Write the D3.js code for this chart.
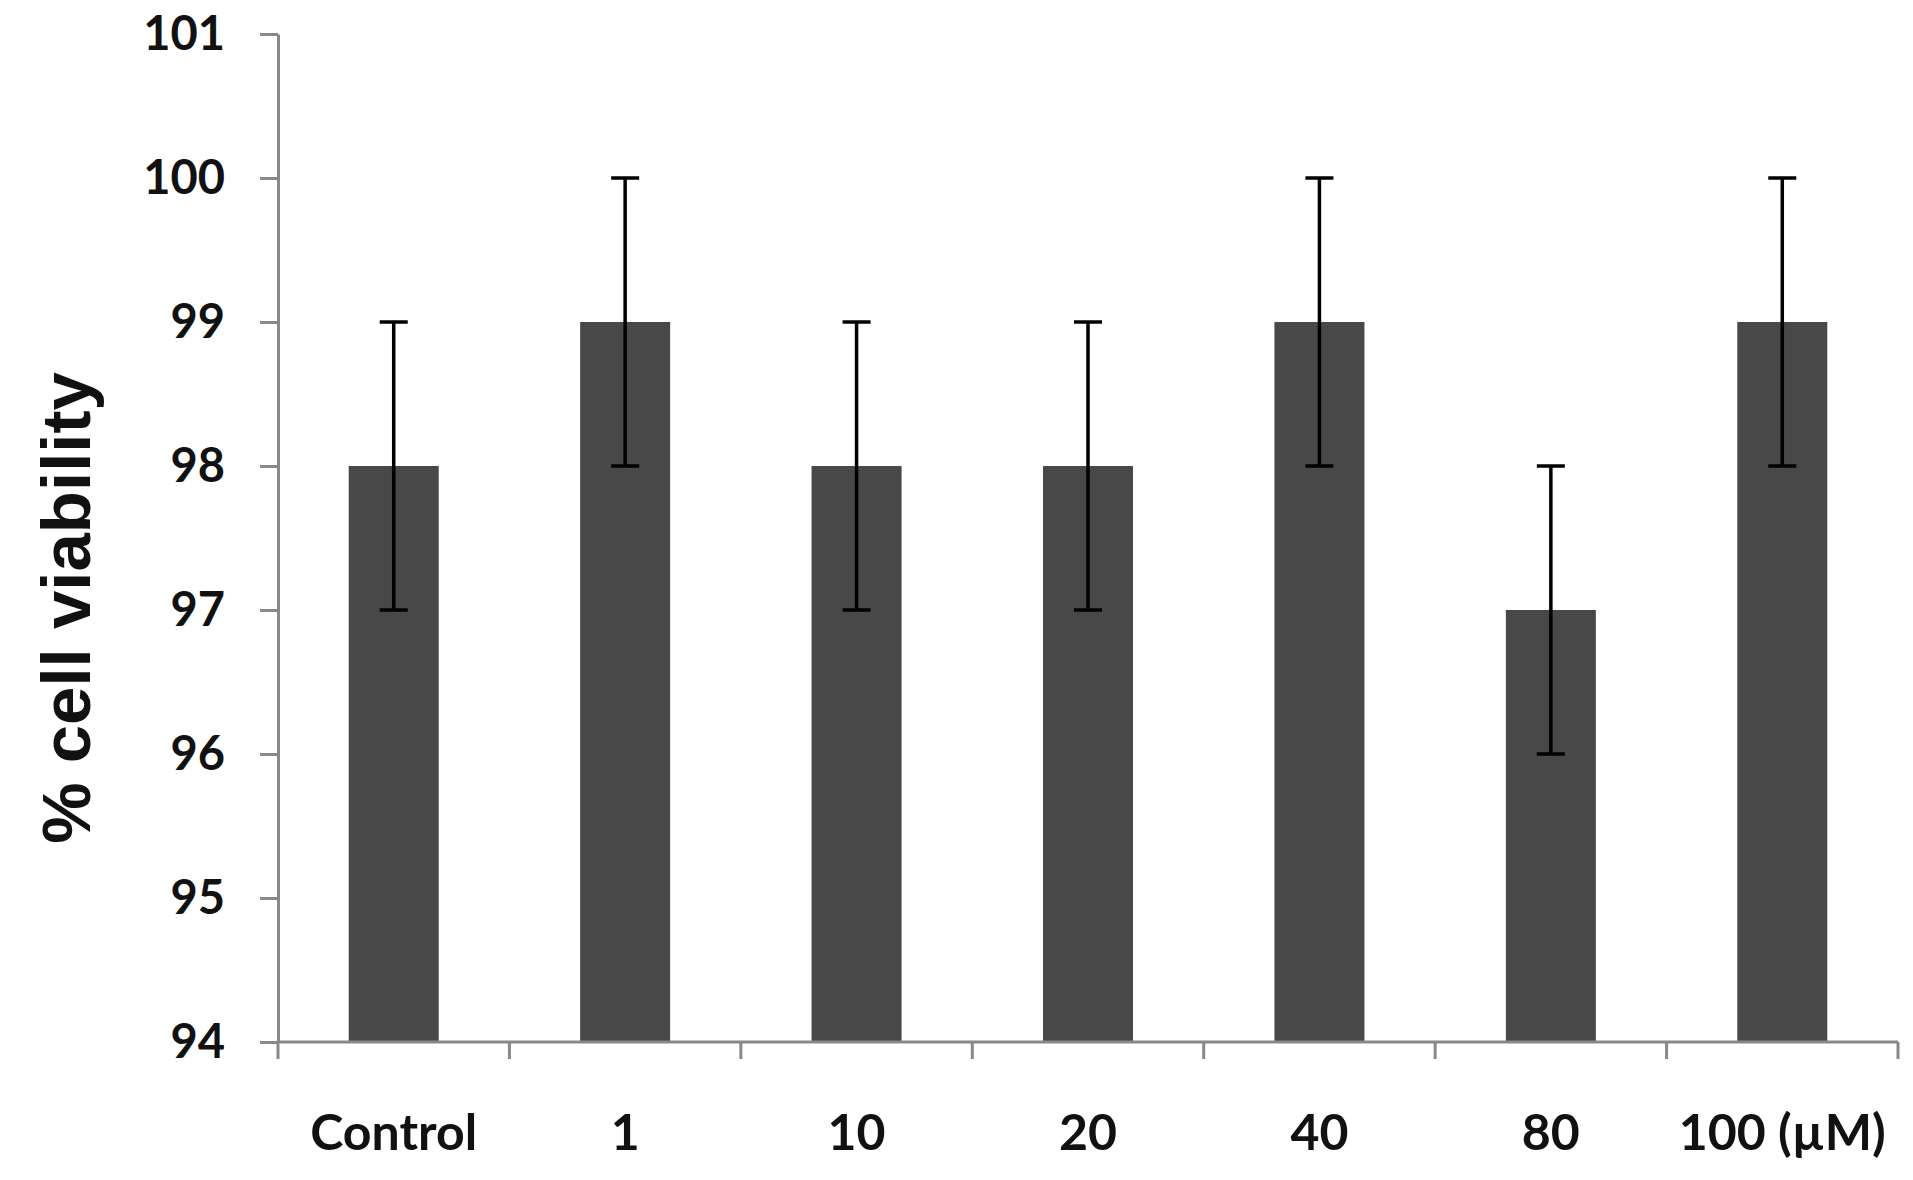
<!DOCTYPE html>
<meta charset="utf-8">
<style>
body {
  margin: 0;
  padding: 0;
  background: #fff;
}
svg text {
  fill: #111;
}
.tick text {
  font-family: Lato, "Open Sans", sans-serif;
  font-weight: bold;
}
.ytitle {
  font-family: "Liberation Sans", Arial, sans-serif;
  font-weight: bold;
  font-size: 69px;
}
</style>
<body>
<div id="chart"></div>
<script src="https://d3js.org/d3.v7.min.js"></script>
<script>

var categories = ['Control', '1', '10', '20', '40', '80', '100 (\u00b5M)'];
var viability = [98, 99, 98, 98, 99, 97, 99];
var errLow = [97, 98, 97, 97, 98, 96, 98];
var errHigh = [99, 100, 99, 99, 100, 98, 100];
var yTicks = [94, 95, 96, 97, 98, 99, 100, 101];

var width = 1913, height = 1180;
var plotLeft = 278, plotRight = 1898, plotTop = 34, plotBottom = 1042;
var axisColor = '#888';

var svg = d3.select('#chart').append('svg')
  .attr('width', width)
  .attr('height', height);

var x = d3.scaleBand()
  .domain(categories)
  .range([plotLeft, plotRight])
  .padding(0);

var y = d3.scaleLinear()
  .domain([94, 101])
  .range([plotBottom, plotTop]);

var barWidth = 90;

// bars
svg.append('g')
  .selectAll('rect')
  .data(viability)
  .enter().append('rect')
    .attr('x', function (d, i) { return x(categories[i]) + x.bandwidth() / 2 - barWidth / 2; })
    .attr('y', function (d) { return y(d); })
    .attr('width', barWidth)
    .attr('height', function (d) { return y(94) - y(d); })
    .attr('fill', '#484848');

// y axis
var yAxis = svg.append('g')
  .attr('transform', 'translate(' + plotLeft + ',0)')
  .call(d3.axisLeft(y).tickValues(yTicks).tickSize(18).tickSizeOuter(0).tickPadding(35).tickFormat(d3.format('d')));
yAxis.select('.domain').attr('stroke', axisColor).attr('stroke-width', 3);
yAxis.selectAll('.tick line').attr('stroke', axisColor).attr('stroke-width', 3);
yAxis.selectAll('.tick text').attr('font-size', 47).attr('fill', '#111');

// x axis: labels centered, ticks on band boundaries
var xAxis = svg.append('g')
  .attr('transform', 'translate(0,' + plotBottom + ')')
  .call(d3.axisBottom(x).tickSize(0).tickPadding(72));
xAxis.select('.domain').remove();
xAxis.selectAll('.tick text').attr('font-size', 50).attr('fill', '#111');

var bounds = categories.map(function (c) { return x(c); }).concat([plotRight]);
var xg = svg.append('g').attr('stroke', axisColor).attr('stroke-width', 3);
xg.append('line')
  .attr('x1', plotLeft).attr('x2', plotRight)
  .attr('y1', plotBottom).attr('y2', plotBottom);
xg.selectAll('.xt')
  .data(bounds)
  .enter().append('line')
    .attr('class', 'xt')
    .attr('x1', function (d) { return d; })
    .attr('x2', function (d) { return d; })
    .attr('y1', plotBottom)
    .attr('y2', plotBottom + 17);

// error bars
var capW = 28;
var eg = svg.append('g').attr('stroke', '#000').attr('stroke-width', 3.5);
categories.forEach(function (c, i) {
  var cx = x(c) + x.bandwidth() / 2;
  eg.append('line')
    .attr('x1', cx).attr('x2', cx)
    .attr('y1', y(errLow[i])).attr('y2', y(errHigh[i]));
  [errLow[i], errHigh[i]].forEach(function (v) {
    eg.append('line')
      .attr('x1', cx - capW / 2).attr('x2', cx + capW / 2)
      .attr('y1', y(v)).attr('y2', y(v));
  });
});

// y title
svg.append('text')
  .attr('class', 'ytitle')
  .attr('transform', 'translate(90,' + 608 + ') rotate(-90)')
  .attr('text-anchor', 'middle')
  .text('% cell viability');

</script>
</body>
